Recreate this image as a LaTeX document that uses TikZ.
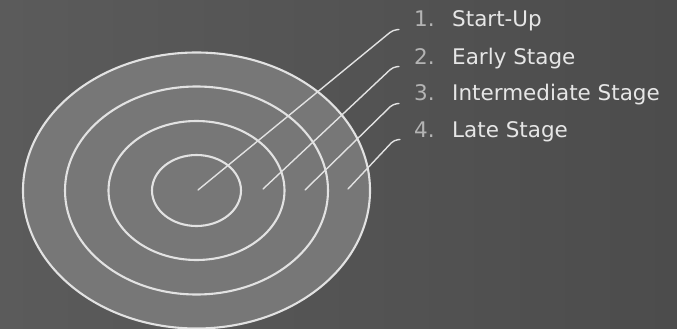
\documentclass[tikz,border=0pt]{standalone}
\usepackage{fontspec}
\setmainfont{DejaVu Sans}
\definecolor{bgA}{HTML}{5B5B5B}
\definecolor{bgB}{HTML}{4C4C4C}
\definecolor{disc}{HTML}{777777}
\definecolor{ringc}{HTML}{E2E2E2}
\definecolor{numc}{HTML}{B4B4B4}
\definecolor{txtc}{HTML}{E6E6E6}
\tikzset{
  ring/.style={draw=ringc, line width=2.1pt},
  leader/.style={draw=ringc, line width=1.4pt, rounded corners=4pt, line cap=round},
  numlabel/.style={anchor=base west, inner sep=0pt, text=numc, font=\fontsize{21.5}{25}\selectfont},
  txtlabel/.style={anchor=base west, inner sep=0pt, text=txtc, font=\fontsize{21.5}{25}\selectfont}
}
\begin{document}
\begin{tikzpicture}[x=1pt,y=-1pt]
\useasboundingbox (0,0) rectangle (677,329);
\shade[left color=bgA, right color=bgB] (0,0) rectangle (677,329);
% target
\fill[disc] (196.5,190.5) ellipse [x radius=173.5, y radius=138];
\draw[ring] (196.5,190.5) ellipse [x radius=173.5, y radius=138];
\draw[ring] (196.5,190.5) ellipse [x radius=131.5, y radius=104];
\draw[ring] (196.5,190.5) ellipse [x radius=88, y radius=69.5];
\draw[ring] (196.5,190.5) ellipse [x radius=44.5, y radius=35.5];
% leader points
\coordinate (s1) at (198,190);
\coordinate (s2) at (263,189);
\coordinate (s3) at (305,190);
\coordinate (s4) at (348,189);
\coordinate (c1) at (393,30);
\coordinate (c2) at (393,67);
\coordinate (c3) at (393,104);
\coordinate (c4) at (394,140);
\coordinate (e1) at (399,29.5);
\coordinate (e2) at (399,66.5);
\coordinate (e3) at (399,103.5);
\coordinate (e4) at (400,139.5);
\draw[leader] (s1) -- (c1) -- (e1);
\draw[leader] (s2) -- (c2) -- (e2);
\draw[leader] (s3) -- (c3) -- (e3);
\draw[leader] (s4) -- (c4) -- (e4);
% labels
\node[numlabel] (n1) at (414,27) {1.};
\node[numlabel] (n2) at (414,64) {2.};
\node[numlabel] (n3) at (414,100.5) {3.};
\node[numlabel] (n4) at (414,137) {4.};
\node[txtlabel] (t1) at (452,27) {Start-Up};
\node[txtlabel] (t2) at (452,64) {Early Stage};
\node[txtlabel] (t3) at (452,100.5) {Intermediate Stage};
\node[txtlabel] (t4) at (452,137) {Late Stage};
\end{tikzpicture}
\end{document}
